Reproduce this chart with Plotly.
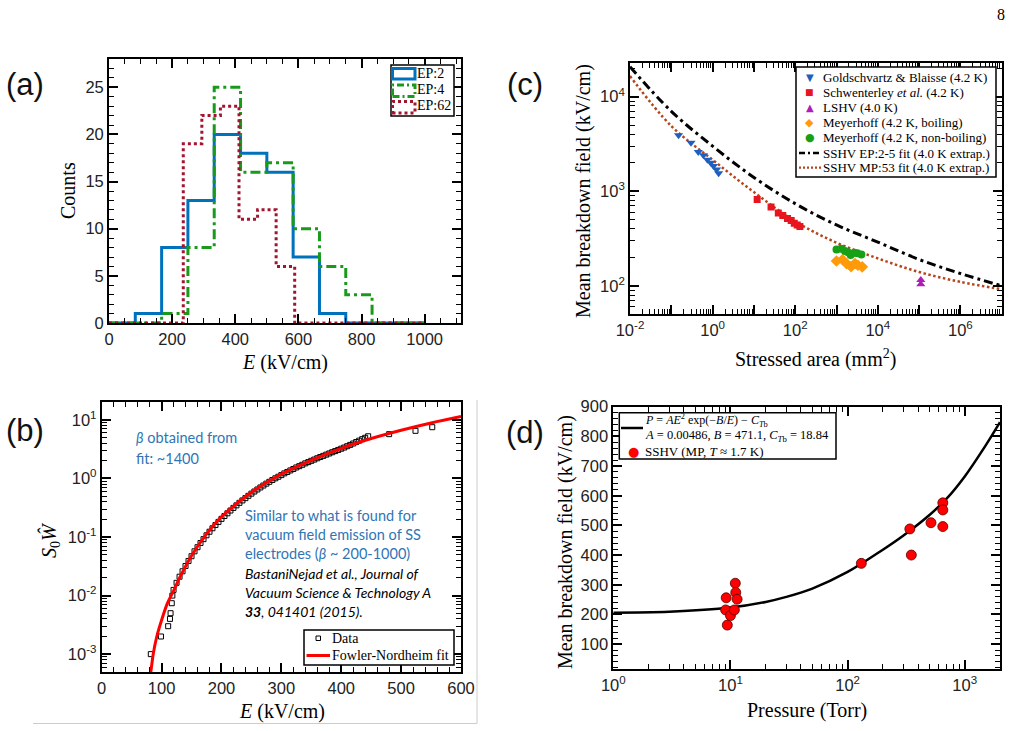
import plotly.graph_objects as go

W, H = 1020, 731
def X(px): return px / W
def Y(py): return 1 - py / H

SERIF = 'Liberation Serif'
SANS = 'Liberation Sans'

# ---------------- (a) histograms ----------------
hist_edges_12 = [0, 83.3, 166.7, 250, 333.3, 416.7, 500, 583.3, 666.7, 750, 833.3, 916.7, 1000]
counts_ep2 = [0, 1, 8, 13, 20, 18, 16, 7, 1, 0, 0, 0]
counts_ep4 = [0, 0, 1, 8, 25, 16, 17, 10, 6, 3, 0, 0]
hist_edges_17 = [0, 58.8, 117.6, 176.5, 235.3, 294.1, 352.9, 411.8, 470.6, 529.4, 588.2,
                 647.1, 705.9, 764.7, 823.5, 882.4, 941.2, 1000]
counts_ep62 = [0, 0, 0, 0, 19, 22, 23, 11, 12, 6, 0, 0, 0, 0, 0, 0, 0]

# ---------------- (b) Fowler-Nordheim ----------------
data_E = [82, 99, 111, 114, 115, 117, 118,
          120, 125, 130, 135, 140, 145, 150, 155, 160, 165, 170, 175, 180, 185, 190, 195,
          200, 205, 210, 215, 220, 225, 230, 235, 240, 245, 250, 255, 260, 265, 270, 275,
          280, 285, 290, 295, 300, 305, 310, 315, 320, 325, 330, 335, 340, 345, 350, 355,
          360, 365, 370, 375, 380, 385, 390, 395, 400, 405, 410, 415, 420, 425, 430, 435,
          440, 445, 480, 524, 552]
data_W = [0.001, 0.002, 0.003, 0.004, 0.005, 0.0074, 0.010,
          0.0125, 0.0165, 0.021, 0.026, 0.032, 0.039, 0.047, 0.057, 0.067, 0.079, 0.092, 0.107,
          0.123, 0.141, 0.160, 0.181, 0.204, 0.228, 0.254, 0.283, 0.314, 0.347, 0.383, 0.421,
          0.461, 0.505, 0.550, 0.598, 0.648, 0.702, 0.757, 0.815, 0.876, 0.940, 1.005, 1.07,
          1.14, 1.22, 1.29, 1.37, 1.45, 1.54, 1.62, 1.71, 1.81, 1.90, 2.00, 2.10, 2.21, 2.32,
          2.43, 2.55, 2.67, 2.80, 2.93, 3.07, 3.22, 3.37, 3.55, 3.74, 3.95, 4.18, 4.42, 4.68,
          4.95, 5.25, 5.7, 6.5, 7.5]
fn_fit_E = [78, 82, 86, 92, 100, 110, 120, 130, 150, 175, 200, 250, 300, 350, 400, 450, 500, 550, 600]
fn_fit_W = [0.0003, 0.0005, 0.001, 0.002, 0.0038, 0.0075, 0.012, 0.020, 0.048, 0.112, 0.22,
            0.58, 1.19, 2.05, 3.27, 4.8, 6.65, 8.85, 11.4]

# ---------------- (c) breakdown vs stressed area ----------------
gb_area = [0.15, 0.30, 0.45, 0.60, 0.75, 0.90, 1.05, 1.25, 1.40]
gb_field = [3900, 3250, 2600, 2400, 2150, 2000, 1850, 1700, 1550]
sch_area = [12, 26, 39, 50, 65, 80, 95, 112, 130]
sch_field = [820, 680, 590, 555, 515, 490, 460, 440, 425]
lshv_area = [1.1e5, 1.1e5]
lshv_field = [115, 104]
meyb_area = [1000, 1400, 1750, 2250, 2800, 3300, 4200]
meyb_field = [183, 189, 172, 160, 172, 165, 159]
meynb_area = [1000, 1300, 1600, 1900, 2200, 2700, 3200, 4000]
meynb_field = [242, 247, 233, 226, 212, 224, 221, 214]
fit_area = [1e-2, 1e-1, 1, 10, 100, 1e3, 1e4, 1e5, 1e6, 1e7]
ep_fit_field = [20700, 7000, 3000, 1400, 740, 440, 290, 190, 135, 100]
mp_fit_field = [16500, 4900, 2150, 980, 480, 286, 195, 140, 110, 92]

# ---------------- (d) breakdown vs pressure ----------------
pressure_torr = [9.2, 9.1, 9.4, 10.0, 11.0, 11.1, 11.4, 10.8, 131, 340, 350, 515, 650, 650, 650]
breakdown_kv = [256, 215, 164, 196, 305, 274, 251, 215, 372, 488, 400, 509, 576, 552, 496]
curve_p = [1, 3, 10, 20, 30, 50, 100, 200, 300, 500, 700, 1000, 1500, 2000]
curve_e = [206, 209, 223, 242, 259, 287, 343, 418, 466, 535, 590, 665, 768, 848]

fig = go.Figure()

# (a)
fig.add_trace(go.Scatter(x=hist_edges_12, y=counts_ep2 + [counts_ep2[-1]], mode='lines',
                         line=dict(shape='hv', color='#0072bd', width=3), xaxis='x', yaxis='y'))
fig.add_trace(go.Scatter(x=hist_edges_12, y=counts_ep4 + [counts_ep4[-1]], mode='lines',
                         line=dict(shape='hv', color='#1a9a1a', width=3, dash='10px,4px,3px,4px'),
                         xaxis='x', yaxis='y'))
fig.add_trace(go.Scatter(x=hist_edges_17, y=counts_ep62 + [counts_ep62[-1]], mode='lines',
                         line=dict(shape='hv', color='#a2142f', width=3, dash='3px,3px'),
                         xaxis='x', yaxis='y'))

# (b)
fig.add_trace(go.Scatter(x=data_E, y=data_W, mode='markers',
                         marker=dict(symbol='square-open', size=5, color='black', line=dict(width=1)),
                         xaxis='x2', yaxis='y2'))
fig.add_trace(go.Scatter(x=fn_fit_E, y=fn_fit_W, mode='lines',
                         line=dict(shape='spline', color='#ff0000', width=3), xaxis='x2', yaxis='y2'))

# (c)
fig.add_trace(go.Scatter(x=fit_area, y=ep_fit_field, mode='lines',
                         line=dict(shape='spline', color='black', width=3, dash='9px,4px,3px,4px'),
                         xaxis='x3', yaxis='y3'))
fig.add_trace(go.Scatter(x=fit_area, y=mp_fit_field, mode='lines',
                         line=dict(shape='spline', color='#b5451b', width=2.5, dash='2.5px,2.5px'),
                         xaxis='x3', yaxis='y3'))
fig.add_trace(go.Scatter(x=gb_area, y=gb_field, mode='markers',
                         marker=dict(symbol='triangle-down', size=8, color='#1f5fc0'), xaxis='x3', yaxis='y3'))
fig.add_trace(go.Scatter(x=sch_area, y=sch_field, mode='markers',
                         marker=dict(symbol='square', size=7, color='#e8141e'), xaxis='x3', yaxis='y3'))
fig.add_trace(go.Scatter(x=lshv_area, y=lshv_field, mode='markers',
                         marker=dict(symbol='triangle-up', size=8, color='#b01cb8'), xaxis='x3', yaxis='y3'))
fig.add_trace(go.Scatter(x=meyb_area, y=meyb_field, mode='markers',
                         marker=dict(symbol='diamond', size=9, color='#ff9a0a'), xaxis='x3', yaxis='y3'))
fig.add_trace(go.Scatter(x=meynb_area, y=meynb_field, mode='markers',
                         marker=dict(symbol='circle', size=8, color='#16a016'), xaxis='x3', yaxis='y3'))

# (d)
fig.add_trace(go.Scatter(x=curve_p, y=curve_e, mode='lines',
                         line=dict(shape='spline', color='black', width=2.5), xaxis='x4', yaxis='y4'))
fig.add_trace(go.Scatter(x=pressure_torr, y=breakdown_kv, mode='markers',
                         marker=dict(symbol='circle', size=10, color='#ff0000',
                                     line=dict(color='#5a0000', width=0.8)),
                         xaxis='x4', yaxis='y4'))


def axis(**kw):
    d = dict(showline=True, linecolor='black', linewidth=1.8, mirror='allticks', automargin=False,
             ticks='inside', ticklen=9, tickwidth=1.6, tickcolor='black',
             showgrid=False, zeroline=False,
             tickfont=dict(family=SANS, size=16.5, color='#222'),
             minor=dict(ticks='inside', ticklen=5, tickwidth=1.2, tickcolor='black', showgrid=False))
    minor = kw.pop('minor', None)
    d.update(kw)
    if minor:
        d['minor'].update(minor)
    return d


def log_minor(lo, hi):
    vals = []
    for e in range(lo, hi + 1):
        for m in range(2, 10):
            vals.append(m * 10.0 ** e)
    return vals


def sup_labels(exps):
    return ['10<sup>%d</sup>' % e for e in exps]


layout = dict(
    width=W, height=H, margin=dict(l=0, r=0, t=0, b=0, pad=0, autoexpand=False), autosize=False,
    paper_bgcolor='white', plot_bgcolor='white', showlegend=False,
    xaxis=axis(domain=[X(109), X(461)], range=[0, 1115], anchor='y', dtick=200, minor=dict(dtick=50)),
    yaxis=axis(domain=[Y(323), Y(59)], range=[0, 28], anchor='x', dtick=5, minor=dict(dtick=1)),
    xaxis2=axis(domain=[X(101.7), X(461)], range=[0, 600], anchor='y2', dtick=100, minor=dict(dtick=20)),
    yaxis2=axis(domain=[Y(672.3), Y(402.3)], type='log', range=[-3.31, 1.30], anchor='x2',
                tickmode='array', tickvals=[1e-3, 1e-2, 1e-1, 1, 10], ticktext=sup_labels([-3, -2, -1, 0, 1]),
                minor=dict(tickmode='array', tickvals=log_minor(-4, 1))),
    xaxis3=axis(domain=[X(630), X(1001.7)], type='log', range=[-2, 7], anchor='y3',
                tickmode='array', tickvals=[10.0 ** e for e in range(-2, 8)],
                ticktext=['10<sup>-2</sup>', ' ', '10<sup>0</sup>', ' ', '10<sup>2</sup>', ' ', '10<sup>4</sup>', ' ',
                          '10<sup>6</sup>', ' '],
                minor=dict(tickmode='array', tickvals=log_minor(-2, 6))),
    yaxis3=axis(domain=[Y(314.3), Y(63.3)], type='log', range=[1.699, 4.353], anchor='x3',
                tickmode='array', tickvals=[100, 1000, 10000], ticktext=sup_labels([2, 3, 4]),
                minor=dict(tickmode='array', tickvals=log_minor(1, 4))),
    xaxis4=axis(domain=[X(613.3), X(1000)], type='log', range=[0, 3.301], anchor='y4',
                tickmode='array', tickvals=[1, 10, 100, 1000], ticktext=sup_labels([0, 1, 2, 3]),
                minor=dict(tickmode='array', tickvals=log_minor(0, 3))),
    yaxis4=axis(domain=[Y(669.3), Y(406.7)], range=[15, 900], anchor='x4', dtick=100, minor=dict(dtick=20)),
)
fig.update_layout(**layout)

ann = []
shapes = []


def text(x, y, s, size=14, family=SERIF, color='black', xanchor='left', yanchor='middle', angle=0):
    ann.append(dict(x=X(x), y=Y(y), xref='paper', yref='paper', text=s, showarrow=False,
                    xanchor=xanchor, yanchor=yanchor, textangle=angle, borderpad=0,
                    font=dict(family=family, size=size, color=color)))


def box(x0, y0, x1, y1, width=1.5):
    shapes.append(dict(type='rect', xref='paper', yref='paper', x0=X(x0), x1=X(x1), y0=Y(y1), y1=Y(y0),
                       line=dict(color='black', width=width), fillcolor='white', layer='above'))


def seg(x0, y0, x1, y1, color, width, dash='solid'):
    shapes.append(dict(type='line', xref='paper', yref='paper', x0=X(x0), x1=X(x1), y0=Y(y0), y1=Y(y1),
                       line=dict(color=color, width=width, dash=dash), layer='above'))


def rect_sample(x0, y0, x1, y1, color, dash):
    shapes.append(dict(type='rect', xref='paper', yref='paper', x0=X(x0), x1=X(x1), y0=Y(y1), y1=Y(y0),
                       line=dict(color=color, width=3, dash=dash), fillcolor='rgba(0,0,0,0)', layer='above'))


# panel labels
for lab, (lx, ly) in {'(a)': (25, 85), '(b)': (25, 430), '(c)': (525, 85), '(d)': (525, 432)}.items():
    text(lx, ly, lab, size=31, family=SANS, color='#111', xanchor='center')
text(1001, 15, '8', size=16, xanchor='center')

# axis titles
text(285, 362, '<i>E</i> (kV/cm)', size=20, xanchor='center')
text(68, 191, 'Counts', size=20, xanchor='center', angle=-90)
text(282, 711, '<i>E</i> (kV/cm)', size=20, xanchor='center')
text(50, 540, '<i>S</i><sub>0</sub><i>Ŵ</i>', size=20, xanchor='center', angle=-90)
text(815, 358, 'Stressed area (mm<sup>2</sup>)', size=20, xanchor='center')
text(584, 191, 'Mean breakdown field (kV/cm)', size=20, xanchor='center', angle=-90)
text(807, 710, 'Pressure (Torr)', size=20, xanchor='center')
text(565, 542, 'Mean breakdown field (kV/cm)', size=20, xanchor='center', angle=-90)

# (a) legend
box(391, 65, 454, 116)
rect_sample(392.5, 68.5, 415, 79, '#0072bd', 'solid')
rect_sample(392.5, 85, 415, 96.5, '#1a9a1a', '7px,3px,2px,3px')
rect_sample(392.5, 101.5, 415, 113, '#a2142f', '3px,3px')
text(416, 73, 'EP:2', size=14)
text(416, 89.5, 'EP:4', size=14)
text(416, 106, 'EP:62', size=14)

# (b) notes
BLUE = '#2e75b6'
text(135, 437, '<i>β</i> obtained from', size=14.5, family='Lato', color=BLUE)
text(135, 458, 'fit: ~1400', size=14.5, family='Lato', color=BLUE)
text(244, 515, 'Similar to what is found for', size=14.5, family='Lato', color=BLUE)
text(244, 534.5, 'vacuum field emission of SS', size=14.5, family='Lato', color=BLUE)
text(244, 553.5, 'electrodes (<i>β</i> ~ 200-1000)', size=14.5, family='Lato', color=BLUE)
text(244, 573, '<i>BastaniNejad et al., Journal of</i>', size=14, family='Lato')
text(244, 592, '<i>Vacuum Science &amp; Technology A</i>', size=14, family='Lato')
text(244, 611, '<b><i>33</i></b><i>, 041401 (2015).</i>', size=14, family='Lato')

# (b) legend
box(304, 630, 454, 665)
shapes.append(dict(type='rect', xref='paper', yref='paper', x0=X(316), x1=X(320.5), y0=Y(640.5), y1=Y(636),
                   line=dict(color='black', width=1), fillcolor='white', layer='above'))
text(331, 638.5, 'Data', size=14)
seg(306.5, 655.5, 330, 655.5, '#ff0000', 3)
text(331, 655.5, 'Fowler-Nordheim fit', size=14)

# (b) light frame
seg(33, 723.5, 477, 723.5, '#cccccc', 1)
seg(477, 400, 477, 723.5, '#cccccc', 1)

# (c) legend
box(796, 67, 996, 177)
rows = [77.5, 92.5, 107.5, 122.7, 137.7, 153, 167.7]
glyphs = [('▼', '#1f5fc0', 10), ('■', '#e8141e', 9), ('▲', '#b01cb8', 10), ('◆', '#ff9a0a', 11), ('●', '#16a016', 11)]
labels_c = ['Goldschvartz &amp; Blaisse (4.2 K)', 'Schwenterley <i>et al.</i> (4.2 K)', 'LSHV (4.0 K)',
            'Meyerhoff (4.2 K, boiling)', 'Meyerhoff (4.2 K, non-boiling)',
            'SSHV EP:2-5 fit (4.0 K extrap.)', 'SSHV MP:53 fit (4.0 K extrap.)']
for i, (g, c, s) in enumerate(glyphs):
    text(809.5, rows[i], g, size=s, family='DejaVu Sans', color=c, xanchor='center')
seg(799, rows[5], 821, rows[5], 'black', 2.5, '6px,3px,2px,3px')
seg(799, rows[6], 821, rows[6], '#b5451b', 2.2, '2px,2px')
for i, l in enumerate(labels_c):
    text(821.5, rows[i], l, size=13)

# (d) legend
box(619.3, 412.7, 836, 459)
seg(621, 428, 643, 428, 'black', 2.5)
text(644, 420, '<i>P</i> = <i>AE</i><sup>2</sup> exp(−<i>B</i>/<i>E</i>) − <i>C</i><sub><i>T</i>b</sub>', size=12)
text(644, 436, '<i>A</i> = 0.00486, <i>B</i> = 471.1, <i>C</i><sub><i>T</i>b</sub> = 18.84', size=12.5)
text(633, 451, '●', size=13, family='DejaVu Sans', color='#ff0000', xanchor='center')
text(644, 451, 'SSHV (MP, <i>T</i> ≈ 1.7 K)', size=13)

fig.update_layout(annotations=ann, shapes=shapes)
fig.write_html('out.html')
